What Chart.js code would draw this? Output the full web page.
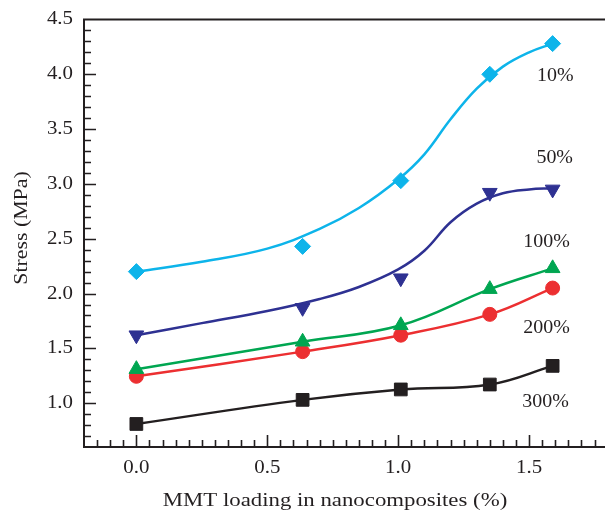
<!DOCTYPE html>
<html>
<head>
<meta charset="utf-8">
<script src="https://cdn.jsdelivr.net/npm/chart.js@4"></script>
<style>
  html, body { margin: 0; padding: 0; background: #fff; overflow: hidden; }
</style>
</head>
<body>
<canvas id="stressChart" width="605" height="513"></canvas>
<script>
// measured points (MMT loading %, stress MPa)
const mmtLoading = [0, 0.635, 1.01, 1.35, 1.59];
const stress10 = [2.20, 2.43, 3.03, 4.00, 4.28];
const stress50 = [1.62, 1.87, 2.14, 2.92, 2.95];
const stress100 = [1.31, 1.56, 1.71, 2.04, 2.23];
const stress200 = [1.245, 1.47, 1.62, 1.81, 2.05];
const stress300 = [0.81, 1.03, 1.125, 1.17, 1.34];

// fitted curves for 10% and 50%
const fitX = [0, 0.25, 0.5, 0.7, 0.85, 1.0, 1.1, 1.2, 1.3, 1.4, 1.5, 1.59];
const fit10 = [2.20, 2.29, 2.41, 2.59, 2.78, 3.04, 3.27, 3.59, 3.87, 4.07, 4.20, 4.28];
const fit50 = [1.62, 1.73, 1.84, 1.95, 2.06, 2.22, 2.39, 2.65, 2.82, 2.915, 2.95, 2.96];

const xTicks = [0, 0.5, 1.0, 1.5];
const yTicks = [1.0, 1.5, 2.0, 2.5, 3.0, 3.5, 4.0, 4.5];

const seriesNames = ['10%', '50%', '100%', '200%', '300%'];
const nameX = [1.53, 1.528, 1.478, 1.478, 1.474];
const nameY = [3.98, 3.235, 2.47, 1.683, 1.007];

const xTitle = 'MMT loading in nanocomposites (%)';
const yTitle = 'Stress (MPa)';

const colors = ['#0db4ea', '#2e3192', '#00a651', '#ec2f31', '#231f20'];
const ink = '#231f20';
const serif = '"Liberation Serif", "Times New Roman", serif';

const pts = (xs, ys) => xs.map((x, i) => ({ x: x, y: ys[i] }));

function markers(ys, i, style, radius, rotation) {
  return {
    data: pts(mmtLoading, ys),
    showLine: false,
    pointStyle: style,
    pointRadius: radius,
    pointRotation: rotation || 0,
    pointBackgroundColor: colors[i],
    pointBorderColor: colors[i],
    pointBorderWidth: 1
  };
}

function curve(xs, ys, i) {
  return {
    data: pts(xs, ys),
    showLine: true,
    borderColor: colors[i],
    borderWidth: 2.5,
    pointRadius: 0,
    tension: 0.4
  };
}

function drawText(ctx, text, x, y, align, sx) {
  ctx.save();
  ctx.translate(x, y);
  ctx.scale(sx, 1);
  ctx.textAlign = align;
  ctx.fillText(text, 0, 0);
  ctx.restore();
}

// axes frame with inward ticks, labels and titles
const frame = {
  id: 'frame',
  afterDraw(chart) {
    const ctx = chart.ctx;
    const xs = chart.scales.x, ys = chart.scales.y;
    const a = chart.chartArea;
    ctx.save();
    ctx.strokeStyle = ink;
    ctx.lineCap = 'square';
    ctx.lineWidth = 2;
    ctx.beginPath();
    ctx.moveTo(a.right + 2, a.top);
    ctx.lineTo(a.left, a.top);
    ctx.lineTo(a.left, a.bottom);
    ctx.lineTo(a.right + 2, a.bottom);
    ctx.stroke();

    ctx.lineWidth = 1.6;
    ctx.lineCap = 'butt';
    ctx.beginPath();
    for (let k = 7; k < 45; k++) {
      const v = k / 10;
      const py = Math.round(ys.getPixelForValue(v)) + 0.5;
      const len = k % 5 === 0 ? 12 : 7;
      ctx.moveTo(a.left, py);
      ctx.lineTo(a.left + len, py);
    }
    for (let k = -3; k <= 35; k++) {
      const v = k / 20;
      const px = Math.round(xs.getPixelForValue(v)) + 0.5;
      const len = k % 10 === 0 ? 12 : 7;
      ctx.moveTo(px, a.bottom);
      ctx.lineTo(px, a.bottom - len);
    }
    ctx.stroke();

    ctx.fillStyle = ink;
    ctx.font = '19px ' + serif;
    ctx.textBaseline = 'middle';
    yTicks.forEach(v => drawText(ctx, v.toFixed(1), a.left - 11, ys.getPixelForValue(v), 'right', 1.1));
    xTicks.forEach(v => drawText(ctx, v.toFixed(1), xs.getPixelForValue(v), a.bottom + 21, 'center', 1.1));

    drawText(ctx, xTitle, 335, 501, 'center', 1.2);
    ctx.save();
    ctx.translate(22, 228);
    ctx.rotate(-Math.PI / 2);
    drawText(ctx, yTitle, 0, 0, 'center', 1.15);
    ctx.restore();

    seriesNames.forEach((s, i) => {
      drawText(ctx, s, xs.getPixelForValue(nameX[i]), ys.getPixelForValue(nameY[i]), 'left', 1.05);
    });
    ctx.restore();
  }
};

new Chart(document.getElementById('stressChart'), {
  type: 'scatter',
  data: {
    datasets: [
      markers(stress10, 0, 'rectRot', 8),
      markers(stress50, 1, 'triangle', 8.5, 180),
      markers(stress100, 2, 'triangle', 8.5),
      markers(stress200, 3, 'circle', 7),
      markers(stress300, 4, 'rect', 9),
      curve(fitX, fit10, 0),
      curve(fitX, fit50, 1),
      curve(mmtLoading, stress100, 2),
      curve(mmtLoading, stress200, 3),
      curve(mmtLoading, stress300, 4)
    ]
  },
  options: {
    responsive: false,
    animation: false,
    layout: { autoPadding: false, padding: { top: 19.5, right: 0, left: 0, bottom: 0 } },
    plugins: { legend: { display: false }, tooltip: { enabled: false } },
    scales: {
      x: {
        type: 'linear',
        min: -0.2,
        max: 1.79,
        grid: { display: false, drawTicks: false },
        border: { display: false },
        ticks: { display: false },
        afterFit: s => { s.height = 66; }
      },
      y: {
        min: 0.6,
        max: 4.5,
        grid: { display: false, drawTicks: false },
        border: { display: false },
        ticks: { display: false },
        afterFit: s => { s.width = 84; }
      }
    }
  },
  plugins: [frame]
});
</script>
</body>
</html>
